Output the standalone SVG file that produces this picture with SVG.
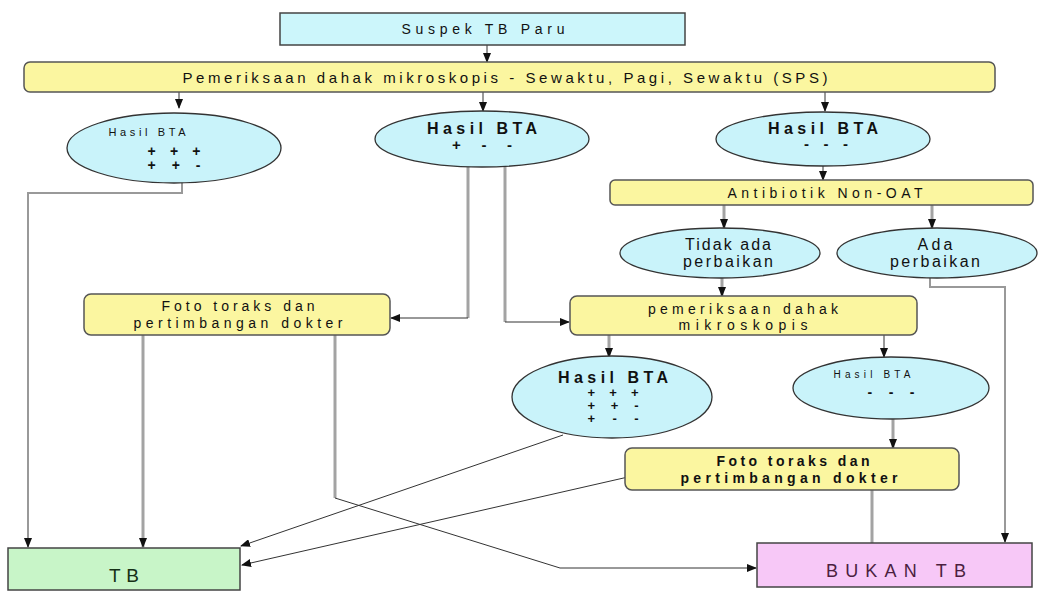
<svg xmlns="http://www.w3.org/2000/svg" width="1053" height="593" viewBox="0 0 1053 593">
<defs>
<marker id="ah" markerWidth="10" markerHeight="8" refX="9" refY="4" orient="auto" markerUnits="userSpaceOnUse">
<path d="M0,0 L10,4 L0,8 Z" fill="#111"/>
</marker>
<style>
text{font-family:"Liberation Sans",Arial,sans-serif;fill:#111;text-anchor:middle}
.ell{fill:#c9f3fa;stroke:#333;stroke-width:1.3}
.yb{fill:#fbf6a0;stroke:#555;stroke-width:1.5}
.thin{fill:none;stroke:#333;stroke-width:1}
.gray{fill:none;stroke:#a3a3a3;stroke-width:3}
.gray2{fill:none;stroke:#999;stroke-width:2}
</style>
</defs>
<rect width="1053" height="593" fill="#fff"/>
<g id="connectors">
<path class="thin" d="M487,45 L487,62" marker-end="url(#ah)"/>
<path class="thin" d="M179,92 L179,108" marker-end="url(#ah)"/>
<path class="thin" d="M483,92 L483,111" marker-end="url(#ah)"/>
<path class="thin" d="M825,92 L825,111" marker-end="url(#ah)"/>
<path class="thin" d="M823,166 L823,180" marker-end="url(#ah)"/>
<path class="gray2" d="M182,182 L182,193 L28,193 L28,547" marker-end="url(#ah)"/>
<path class="gray" d="M468,167 L468,318"/>
<path class="thin" d="M468,318 L391,318" marker-end="url(#ah)"/>
<path class="gray" d="M505,167 L505,322"/>
<path class="thin" d="M505,322 L569,322" marker-end="url(#ah)"/>
<path class="gray" d="M724,205 L724,228" marker-end="url(#ah)"/>
<path class="gray" d="M932,205 L932,228" marker-end="url(#ah)"/>
<path class="gray" d="M722,278 L722,296" marker-end="url(#ah)"/>
<path class="gray2" d="M930,278 L930,287 L1005,287 L1005,542" marker-end="url(#ah)"/>
<path class="gray" d="M609,335 L609,357" marker-end="url(#ah)"/>
<path class="thin" d="M884,335 L884,357" marker-end="url(#ah)"/>
<path class="gray" d="M893,419 L893,448" marker-end="url(#ah)"/>
<path class="gray" d="M143,335 L143,547" marker-end="url(#ah)"/>
<path class="gray" d="M335,335 L335,498"/>
<path class="thin" d="M335,498 L560,568 L756,568" marker-end="url(#ah)"/>
<path class="thin" d="M563,435 L241,546" marker-end="url(#ah)"/>
<path class="thin" d="M628,477 L242,565" marker-end="url(#ah)"/>
<path class="gray" d="M872,490 L872,543"/>
</g>
<g id="suspek">
<rect x="280" y="13" width="405" height="32" fill="#ccf6fb" stroke="#444" stroke-width="1.5"/>
<text x="483" y="34" font-size="14" textLength="163" lengthAdjust="spacing">Suspek TB Paru</text>
</g>
<g id="pemeriksaan1">
<rect class="yb" x="24" y="62" width="971" height="30" rx="6"/>
<text x="505" y="83" font-size="15" textLength="645" lengthAdjust="spacing">Pemeriksaan dahak mikroskopis - Sewaktu, Pagi, Sewaktu (SPS)</text>
</g>
<g id="hasil1">
<ellipse class="ell" cx="174" cy="148" rx="107" ry="35"/>
<text x="147" y="136" font-size="11" textLength="77" lengthAdjust="spacing">Hasil BTA</text>
<text x="174" y="156" font-size="14" font-weight="bold" textLength="53" lengthAdjust="spacing">+ + +</text>
<text x="174" y="170" font-size="14" font-weight="bold" textLength="53" lengthAdjust="spacing">+ + -</text>
</g>
<g id="hasil2">
<ellipse class="ell" cx="482" cy="139" rx="107" ry="28"/>
<text x="482" y="134" font-size="16" font-weight="bold" textLength="110" lengthAdjust="spacing">Hasil BTA</text>
<text x="482" y="150" font-size="15" font-weight="bold" textLength="60" lengthAdjust="spacing">+ - -</text>
</g>
<g id="hasil3">
<ellipse class="ell" cx="823" cy="139" rx="107" ry="27"/>
<text x="823" y="134" font-size="16" font-weight="bold" textLength="110" lengthAdjust="spacing">Hasil BTA</text>
<text x="826" y="149" font-size="15" font-weight="bold" textLength="44" lengthAdjust="spacing">- - -</text>
</g>
<g id="antibiotik">
<rect class="yb" x="610" y="180" width="423" height="25" rx="5"/>
<text x="825" y="198" font-size="14" textLength="195" lengthAdjust="spacing">Antibiotik Non-OAT</text>
</g>
<g id="tidak">
<ellipse class="ell" cx="720" cy="253" rx="100" ry="25"/>
<text x="728" y="250" font-size="16" textLength="86" lengthAdjust="spacing">Tidak ada</text>
<text x="728" y="267" font-size="16" textLength="90" lengthAdjust="spacing">perbaikan</text>
</g>
<g id="ada">
<ellipse class="ell" cx="937" cy="253" rx="100" ry="25"/>
<text x="935" y="250" font-size="16" textLength="35" lengthAdjust="spacing">Ada</text>
<text x="935" y="267" font-size="16" textLength="90" lengthAdjust="spacing">perbaikan</text>
</g>
<g id="foto1">
<rect class="yb" x="84" y="294" width="306" height="41" rx="7"/>
<text x="238" y="311" font-size="14" textLength="153" lengthAdjust="spacing">Foto toraks dan</text>
<text x="238" y="328" font-size="14" textLength="209" lengthAdjust="spacing">pertimbangan  dokter</text>
</g>
<g id="pemeriksaan2">
<rect class="yb" x="570" y="296" width="347" height="39" rx="7"/>
<text x="743" y="314" font-size="14" textLength="190" lengthAdjust="spacing">pemeriksaan dahak</text>
<text x="743" y="330" font-size="14" textLength="129" lengthAdjust="spacing">mikroskopis</text>
</g>
<g id="hasil4">
<ellipse class="ell" cx="612" cy="397" rx="100" ry="41"/>
<text x="613" y="383" font-size="16" font-weight="bold" textLength="110" lengthAdjust="spacing">Hasil BTA</text>
<text x="613" y="397" font-size="13" font-weight="bold" textLength="51" lengthAdjust="spacing">+ + +</text>
<text x="613" y="410" font-size="13" font-weight="bold" textLength="51" lengthAdjust="spacing">+ + -</text>
<text x="613" y="423" font-size="13" font-weight="bold" textLength="51" lengthAdjust="spacing">+ - -</text>
</g>
<g id="hasil5">
<ellipse class="ell" cx="891" cy="388" rx="98" ry="31"/>
<text x="872" y="378" font-size="10" textLength="77" lengthAdjust="spacing">Hasil BTA</text>
<text x="891" y="397" font-size="14" font-weight="bold" textLength="47" lengthAdjust="spacing">- - -</text>
</g>
<g id="foto2">
<rect class="yb" x="625" y="448" width="334" height="42" rx="7"/>
<text x="793" y="466" font-size="14" font-weight="bold" textLength="153" lengthAdjust="spacing">Foto toraks dan</text>
<text x="789" y="483" font-size="14" font-weight="bold" textLength="217" lengthAdjust="spacing">pertimbangan  dokter</text>
</g>
<g id="tb">
<rect x="8" y="548" width="232" height="42" fill="#c8f5c8" stroke="#444" stroke-width="1.5"/>
<text x="124" y="582" font-size="19" textLength="30" lengthAdjust="spacing" style="fill:#163016">TB</text>
</g>
<g id="bukan">
<rect x="757" y="543" width="275" height="44" fill="#f7c8f7" stroke="#444" stroke-width="1.5"/>
<text x="896" y="577" font-size="18" textLength="140" lengthAdjust="spacing" style="fill:#4b1f3f">BUKAN TB</text>
</g>
</svg>
